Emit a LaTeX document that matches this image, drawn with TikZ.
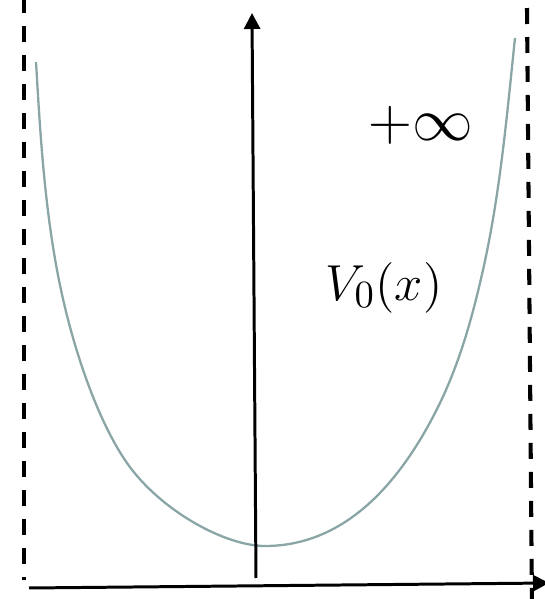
\documentclass[tikz,border=0pt]{standalone}
\usepackage{amsmath,amssymb}
\usepackage{tikz}
\usetikzlibrary{arrows.meta}
\definecolor{curvegray}{RGB}{138,165,166}

\begin{document}
\begin{tikzpicture}[
    axis/.style={line width=0.85pt, -{Triangle[length=0.16cm, width=0.16cm]}},
    wall/.style={line width=1.15pt, dash pattern=on 4.55pt off 3.7pt},
    potential/.style={line width=0.65pt, curvegray},
    label/.style={inner sep=0pt}
]
\useasboundingbox (0,0) rectangle (5.45,5.99);

\coordinate (wallLtop) at (0.24,6.02);
\coordinate (wallLbot) at (0.24,0.19);
\coordinate (wallRtop) at (5.27,5.91);
\coordinate (wallRbot) at (5.32,-0.05);
\coordinate (xstart) at (0.29,0.11);
\coordinate (xend) at (5.49,0.16);
\coordinate (ystart) at (2.56,0.21);
\coordinate (yend) at (2.52,5.86);

\draw[wall] (wallLtop) -- (wallLbot);
\draw[wall] (wallRtop) -- (wallRbot);

% potential well
\draw[potential] (0.36,5.37) .. controls (0.401,4.67) and (0.442,3.98) .. (0.57,3.29)
    .. controls (0.707,2.553) and (0.972,1.786) .. (1.27,1.36)
    .. controls (1.602,0.885) and (2.25,0.53) .. (2.65,0.53)
    .. controls (3.50,0.53) and (4.05,1.24) .. (4.40,1.96)
    .. controls (4.603,2.383) and (4.727,2.831) .. (4.83,3.29)
    .. controls (5.001,4.051) and (5.069,4.834) .. (5.15,5.61);

\draw[axis] (xstart) -- (xend);
\draw[axis] (ystart) -- (yend);

\node[label, anchor=base, font=\fontsize{18}{21}\selectfont] (infty) at (4.21,4.59) {$+\infty$};
\node[label, anchor=base, font=\fontsize{15.6}{18}\selectfont] (pot) at (3.84,2.99) {$V_0(x)$};

\end{tikzpicture}
\end{document}
